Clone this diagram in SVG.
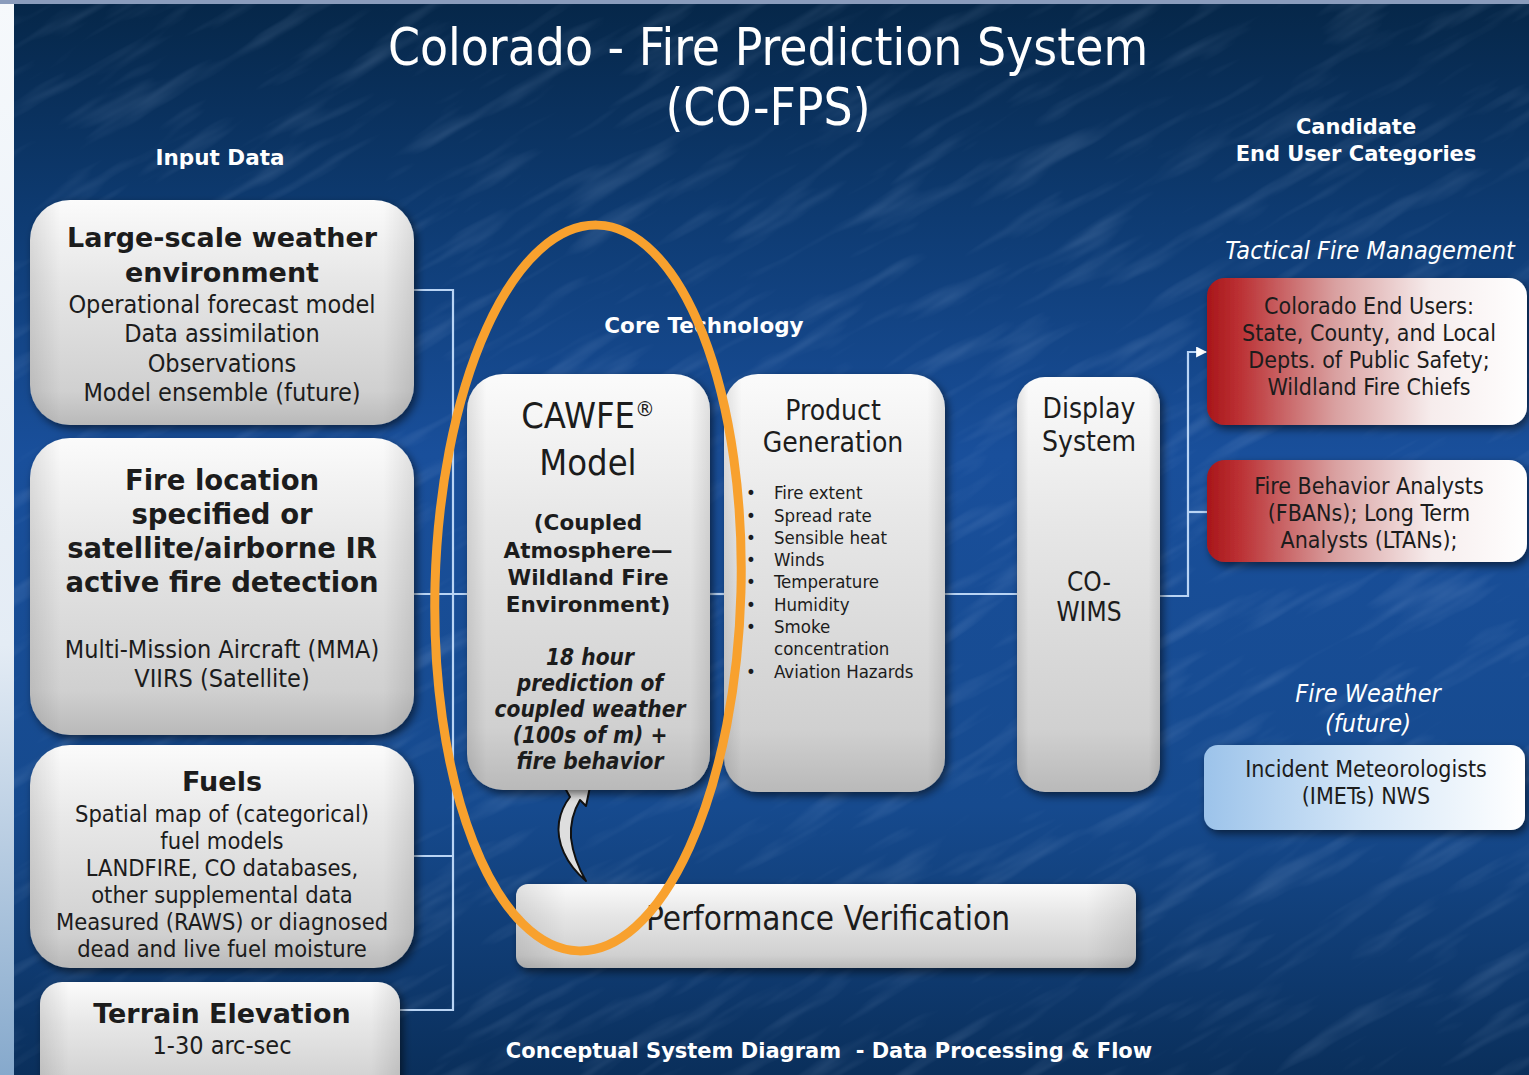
<svg xmlns="http://www.w3.org/2000/svg" width="1529" height="1075" viewBox="0 0 1529 1075">
  <defs>
    <linearGradient id="bgV" x1="0" y1="0" x2="0" y2="1">
      <stop offset="0" stop-color="#062749"/>
      <stop offset="0.2" stop-color="#0e3b72"/>
      <stop offset="0.42" stop-color="#194f9b"/>
      <stop offset="0.75" stop-color="#164a8e"/>
      <stop offset="1" stop-color="#0a2f5b"/>
    </linearGradient>
    <linearGradient id="edge" x1="0" y1="0" x2="0" y2="1">
      <stop offset="0" stop-color="#f6f9fc"/>
      <stop offset="0.6" stop-color="#e4ecf5"/>
      <stop offset="1" stop-color="#86a9cc"/>
    </linearGradient>
    <linearGradient id="boxFill" x1="0" y1="0" x2="0" y2="1">
      <stop offset="0" stop-color="#fbfbfb"/>
      <stop offset="0.35" stop-color="#e7e7e7"/>
      <stop offset="0.85" stop-color="#d0d0d0"/>
      <stop offset="1" stop-color="#b9b9b9"/>
    </linearGradient>
    <linearGradient id="boxSide" x1="0" y1="0" x2="1" y2="0">
      <stop offset="0" stop-color="#000" stop-opacity="0.10"/>
      <stop offset="0.08" stop-color="#000" stop-opacity="0"/>
      <stop offset="0.92" stop-color="#000" stop-opacity="0"/>
      <stop offset="1" stop-color="#000" stop-opacity="0.10"/>
    </linearGradient>
    <linearGradient id="redFill" x1="0" y1="0" x2="1" y2="0">
      <stop offset="0" stop-color="#a8161a"/>
      <stop offset="0.1" stop-color="#bb3033"/>
      <stop offset="0.4" stop-color="#d9a0a0"/>
      <stop offset="0.7" stop-color="#f6ecec"/>
      <stop offset="1" stop-color="#ffffff"/>
    </linearGradient>
    <linearGradient id="blueFill" x1="0" y1="0" x2="1" y2="0">
      <stop offset="0" stop-color="#9cc3ea"/>
      <stop offset="0.5" stop-color="#d4e6f7"/>
      <stop offset="1" stop-color="#ffffff"/>
    </linearGradient>
    <filter id="shadow" x="-10%" y="-10%" width="130%" height="130%">
      <feDropShadow dx="3" dy="4" stdDeviation="4" flood-color="#000" flood-opacity="0.55"/>
    </filter>
    <filter id="streaks" x="0" y="0" width="100%" height="100%">
      <feTurbulence type="fractalNoise" baseFrequency="0.008 0.05" numOctaves="3" seed="7" result="n"/>
      <feColorMatrix type="matrix" values="0 0 0 0 0.55  0 0 0 0 0.7  0 0 0 0 0.95  0 0 0 1.2 -0.62"/>
    </filter>
    <marker id="arrow" viewBox="0 0 10 10" refX="9" refY="5" markerWidth="5" markerHeight="5" orient="auto">
      <path d="M0,0 L10,5 L0,10 z" fill="#ffffff"/>
    </marker>
    <style>
      .t { font-family: "DejaVu Sans Condensed", "DejaVu Sans", "Liberation Sans", sans-serif; fill: #1c1c1c; text-anchor: middle; }
      .h { font-family: "DejaVu Sans", "Liberation Sans", sans-serif; font-weight: bold; fill: #1c1c1c; text-anchor: middle; }
      .b { font-weight: bold; }
      .i { font-style: italic; }
      .w { fill: #ffffff; }
      .lbl { font-family: "DejaVu Sans", "Liberation Sans", sans-serif; fill: #ffffff; font-weight: bold; text-anchor: middle; }
      .box { fill: url(#boxFill); filter: url(#shadow); }
      .side { fill: url(#boxSide); }
      .wire { fill: none; stroke: #b9d4f4; stroke-width: 2.2; }
      .bl { font-family: "DejaVu Sans Condensed", "DejaVu Sans", "Liberation Sans", sans-serif; fill: #1c1c1c; font-size: 18.5px; }
    </style>
  </defs>

  <!-- backdrop -->
  <rect x="0" y="0" width="1529" height="1075" fill="#8a9cbc"/>
  <rect x="13" y="4" width="1516" height="1071" fill="url(#bgV)"/>
  <g transform="rotate(-30 770 540)" opacity="0.3">
    <rect x="-300" y="-300" width="2200" height="1700" filter="url(#streaks)"/>
  </g>
  <rect x="0" y="0" width="14" height="1075" fill="url(#edge)"/>
  <rect x="0" y="0" width="1529" height="4" fill="#8a9cbc"/>

  <!-- headings -->
  <g id="title">
    <text class="t w" x="768" y="65" font-size="51">Colorado - Fire Prediction System</text>
    <text class="t w" x="768" y="125" font-size="51">(CO-FPS)</text>
  </g>
  <text class="lbl" x="220" y="165" font-size="21.5">Input Data</text>
  <text class="lbl" x="704" y="333" font-size="21.5">Core Technology</text>
  <text class="lbl" x="1356" y="134" font-size="21">Candidate</text>
  <text class="lbl" x="1356" y="161" font-size="21">End User Categories</text>
  <text class="t w i" x="1370" y="259" font-size="25">Tactical Fire Management</text>
  <text class="t w i" x="1368" y="702" font-size="25">Fire Weather</text>
  <text class="t w i" x="1368" y="732" font-size="25">(future)</text>
  <text class="lbl" x="829" y="1058" font-size="21" xml:space="preserve">Conceptual System Diagram  - Data Processing &amp; Flow</text>

  <!-- connectors -->
  <g id="connectors">
    <path class="wire" d="M414,290 H453 V1010 H400"/>
    <path class="wire" d="M414,594 H468"/>
    <path class="wire" d="M414,856 H453"/>
    <path class="wire" d="M710,594 H724"/>
    <path class="wire" d="M945,594 H1017"/>
    <path class="wire" d="M1160,596 H1188 V352 H1206" marker-end="url(#arrow)"/>
    <path class="wire" d="M1188,512 H1207"/>
    <!-- curved feedback arrow from verification up into the model -->
    <path d="M586,881 C566,864 556,842 559,822 C561,810 566,802 570,797 L565,788 L590,787 L586,806 L580,800 C574,810 570,822 571,838 C573,855 579,869 586,881 Z" fill="#dedede" stroke="#111" stroke-width="2" stroke-linejoin="round"/>
  </g>

  <!-- input data -->
  <g id="weather">
    <rect class="box" x="30" y="200" width="384" height="225" rx="40"/>
    <rect class="side" x="30" y="200" width="384" height="225" rx="40"/>
    <text class="h" x="222" y="247" font-size="27">Large-scale weather</text>
    <text class="h" x="222" y="282" font-size="27">environment</text>
    <text class="t" x="222" y="313" font-size="25">Operational forecast model</text>
    <text class="t" x="222" y="342" font-size="25">Data assimilation</text>
    <text class="t" x="222" y="372" font-size="25">Observations</text>
    <text class="t" x="222" y="401" font-size="25">Model ensemble (future)</text>
  </g>
  <g id="fire-location">
    <rect class="box" x="30" y="438" width="384" height="297" rx="40"/>
    <rect class="side" x="30" y="438" width="384" height="297" rx="40"/>
    <text class="h" x="222" y="490" font-size="27.5">Fire location</text>
    <text class="h" x="222" y="524" font-size="27.5">specified or</text>
    <text class="h" x="222" y="558" font-size="27.5">satellite/airborne IR</text>
    <text class="h" x="222" y="592" font-size="27.5">active fire detection</text>
    <text class="t" x="222" y="658" font-size="25">Multi-Mission Aircraft (MMA)</text>
    <text class="t" x="222" y="687" font-size="25">VIIRS (Satellite)</text>
  </g>
  <g id="fuels">
    <rect class="box" x="30" y="745" width="384" height="223" rx="40"/>
    <rect class="side" x="30" y="745" width="384" height="223" rx="40"/>
    <text class="h" x="222" y="791" font-size="27">Fuels</text>
    <text class="t" x="222" y="822" font-size="23.5">Spatial map of (categorical)</text>
    <text class="t" x="222" y="849" font-size="23.5">fuel models</text>
    <text class="t" x="222" y="876" font-size="23.5">LANDFIRE, CO databases,</text>
    <text class="t" x="222" y="903" font-size="23.5">other supplemental data</text>
    <text class="t" x="222" y="930" font-size="23.5">Measured (RAWS) or diagnosed</text>
    <text class="t" x="222" y="957" font-size="23.5">dead and live fuel moisture</text>
  </g>
  <g id="terrain">
    <rect class="box" x="40" y="982" width="360" height="120" rx="22"/>
    <rect class="side" x="40" y="982" width="360" height="120" rx="22"/>
    <text class="h" x="222" y="1023" font-size="27">Terrain Elevation</text>
    <text class="t" x="222" y="1054" font-size="25">1-30 arc-sec</text>
  </g>

  <!-- core technology -->
  <g id="cawfe">
    <rect class="box" x="467" y="374" width="243" height="416" rx="36"/>
    <rect class="side" x="467" y="374" width="243" height="416" rx="36"/>
    <text class="t" x="588" y="428" font-size="36">CAWFE<tspan font-size="22" dy="-12">®</tspan></text>
    <text class="t" x="588" y="475" font-size="36">Model</text>
    <text class="h" x="588" y="530" font-size="21.5">(Coupled</text>
    <text class="h" x="588" y="558" font-size="21.5">Atmosphere—</text>
    <text class="h" x="588" y="585" font-size="21.5">Wildland Fire</text>
    <text class="h" x="588" y="612" font-size="21.5">Environment)</text>
    <text class="t b i" x="590" y="665" font-size="22.5">18 hour</text>
    <text class="t b i" x="590" y="691" font-size="22.5">prediction of</text>
    <text class="t b i" x="590" y="717" font-size="22.5">coupled weather</text>
    <text class="t b i" x="590" y="743" font-size="22.5">(100s of m) +</text>
    <text class="t b i" x="590" y="769" font-size="22.5">fire behavior</text>
  </g>
  <g id="product-generation">
    <rect class="box" x="724" y="374" width="221" height="418" rx="34"/>
    <rect class="side" x="724" y="374" width="221" height="418" rx="34"/>
    <text class="t" x="833" y="420" font-size="28">Product</text>
    <text class="t" x="833" y="452" font-size="28">Generation</text>
    <g class="bl">
      <text x="746" y="499">•</text><text x="774" y="499">Fire extent</text>
      <text x="746" y="522">•</text><text x="774" y="522">Spread rate</text>
      <text x="746" y="544">•</text><text x="774" y="544">Sensible heat</text>
      <text x="746" y="566">•</text><text x="774" y="566">Winds</text>
      <text x="746" y="588">•</text><text x="774" y="588">Temperature</text>
      <text x="746" y="611">•</text><text x="774" y="611">Humidity</text>
      <text x="746" y="633">•</text><text x="774" y="633">Smoke</text>
      <text x="774" y="655">concentration</text>
      <text x="746" y="678">•</text><text x="774" y="678">Aviation Hazards</text>
    </g>
  </g>
  <g id="display-system">
    <rect class="box" x="1017" y="377" width="143" height="415" rx="28"/>
    <rect class="side" x="1017" y="377" width="143" height="415" rx="28"/>
    <text class="t" x="1089" y="418" font-size="28">Display</text>
    <text class="t" x="1089" y="451" font-size="28">System</text>
    <text class="t" x="1089" y="591" font-size="26">CO-</text>
    <text class="t" x="1089" y="621" font-size="26">WIMS</text>
  </g>
  <g id="performance-verification">
    <rect class="box" x="516" y="884" width="620" height="84" rx="12"/>
    <rect class="side" x="516" y="884" width="620" height="84" rx="12"/>
    <text class="t" x="828" y="930" font-size="33">Performance Verification</text>
  </g>

  <!-- end users -->
  <g id="colorado-end-users">
    <rect x="1207" y="278" width="320" height="147" rx="18" fill="url(#redFill)" filter="url(#shadow)"/>
    <text class="t" x="1369" y="314" font-size="23">Colorado End Users:</text>
    <text class="t" x="1369" y="341" font-size="23">State, County, and Local</text>
    <text class="t" x="1369" y="368" font-size="23">Depts. of Public Safety;</text>
    <text class="t" x="1369" y="395" font-size="23">Wildland Fire Chiefs</text>
  </g>
  <g id="fire-behavior-analysts">
    <rect x="1207" y="460" width="320" height="102" rx="18" fill="url(#redFill)" filter="url(#shadow)"/>
    <text class="t" x="1369" y="494" font-size="23">Fire Behavior Analysts</text>
    <text class="t" x="1369" y="521" font-size="23">(FBANs); Long Term</text>
    <text class="t" x="1369" y="548" font-size="23">Analysts (LTANs);</text>
  </g>
  <g id="incident-meteorologists">
    <rect x="1204" y="745" width="321" height="85" rx="14" fill="url(#blueFill)" filter="url(#shadow)"/>
    <text class="t" x="1366" y="777" font-size="23">Incident Meteorologists</text>
    <text class="t" x="1366" y="804" font-size="23">(IMETs) NWS</text>
  </g>

  <!-- highlight ring around the model -->
  <ellipse cx="588" cy="588" rx="153" ry="363" transform="rotate(1.5 588 588)" fill="none" stroke="#f8a12e" stroke-width="9"/>
</svg>
